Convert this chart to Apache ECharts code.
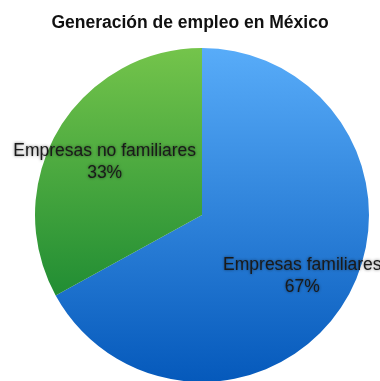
<!DOCTYPE html>
<html>
<head>
<meta charset="utf-8">
<script src="https://cdn.jsdelivr.net/npm/echarts@6/dist/echarts.min.js"></script>
<style>
  html, body { margin: 0; padding: 0; background: #fff; }
  #main { width: 380px; height: 381px; }
</style>
</head>
<body>
<div id="main"></div>
<script>
    // datos del grafico
    var categorias = ['Empresas familiares', 'Empresas no familiares'];
    var valores = [67, 33];
    var colores = [
        ['#58acf9', '#0559bb'],   // azul
        ['#74c44b', '#047a2b']    // verde
    ];

    var cx = 202, cy = 215, r = 167;
    // ajuste fino de las etiquetas
    var desplazamientos = [[0, 2], [3, 7]];

    function gradiente(par) {
        return new echarts.graphic.LinearGradient(0, cy - r, 0, cy + r, [
            {offset: 0, color: par[0]},
            {offset: 1, color: par[1]}
        ], true);
    }

    var datos = [];
    var datosEtiqueta = [];
    for (var i = 0; i < categorias.length; i++) {
        datos.push({
            name: categorias[i],
            value: valores[i],
            itemStyle: {color: gradiente(colores[i])}
        });
        datosEtiqueta.push({
            name: categorias[i],
            value: valores[i],
            label: {offset: desplazamientos[i]}
        });
    }

    var chart = echarts.init(document.getElementById('main'));
    chart.setOption({
        animation: false,
        title: {
            text: 'Generación de empleo en México',
            left: 'center',
            top: 9,
            textStyle: {
                fontFamily: 'Liberation Sans',
                fontWeight: 'bold',
                fontSize: 17.5,
                color: '#111'
            }
        },
        series: [{
            type: 'pie',
            center: [cx, cy],
            radius: [0, r],
            startAngle: 90,
            clockwise: true,
            silent: true,
            label: {show: false},
            labelLine: {show: false},
            itemStyle: {borderWidth: 0},
            data: datos
        }, {
            // serie invisible solo para colocar las etiquetas mas afuera
            type: 'pie',
            center: [cx, cy],
            radius: [0, r * 1.36],
            startAngle: 90,
            clockwise: true,
            silent: true,
            itemStyle: {color: 'rgba(0,0,0,0)'},
            labelLine: {show: false},
            label: {
                show: true,
                position: 'inside',
                formatter: '{b}\n{d}%',
                fontFamily: 'Liberation Sans',
                fontSize: 17.5,
                lineHeight: 22,
                color: '#1a1a1a',
                textShadowColor: 'rgba(0,0,0,0.55)',
                textShadowBlur: 3
            },
            data: datosEtiqueta
        }]
    });
</script>
</body>
</html>
